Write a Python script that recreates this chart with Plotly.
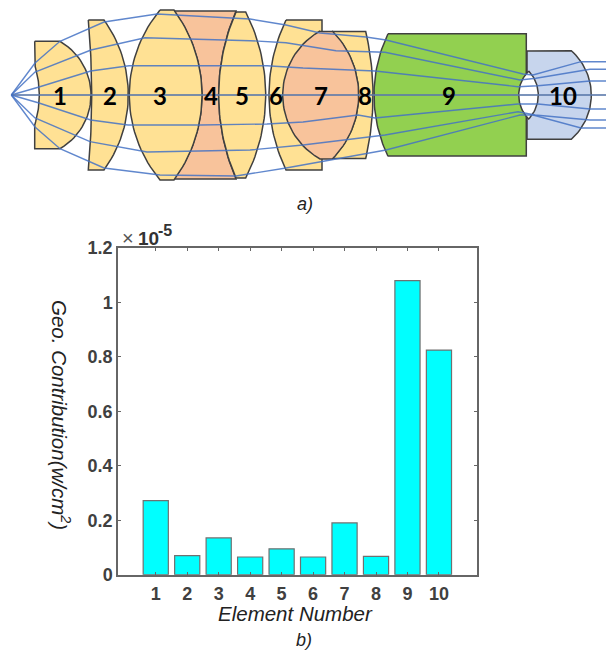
import numpy as np
import plotly.graph_objects as go

W, H = 606, 650

# --- bar chart data ---
elements = [1, 2, 3, 4, 5, 6, 7, 8, 9, 10]
contribution = [0.272, 0.07, 0.135, 0.065, 0.095, 0.065, 0.19, 0.067, 1.08, 0.825]  # x 1e-5
y_ticks = [0, 0.2, 0.4, 0.6, 0.8, 1, 1.2]
y_ticktext = ["0", "0.2", "0.4", "0.6", "0.8", "1", "1.2"]

# --- lens diagram data (diagram units, axis at y = 95) ---
AXIS_Y = 95
DIAGRAM_H = 210
YELLOW, ORANGE, GREEN, BLUE = "#FFE194", "#F8C39B", "#92D050", "#C7D5ED"
EDGE = "#404040"
lens_labels = ["1", "2", "3", "4", "5", "6", "7", "8", "9", "10"]
label_x = [60, 110, 160, 211, 242, 276, 321, 365, 449, 563]

ray_x = [
    [11.3, 35, 60, 104, 157, 236, 250, 286, 320, 366, 386, 523, 533, 581, 606],
    [11.3, 35, 91, 145, 250, 286, 336, 385, 520, 536, 590, 606],
    [11.3, 39, 90.7, 129, 200, 267, 303, 358, 375, 518, 538, 590, 606],
    [11.3, 606],
    [11.3, 39, 90.7, 128, 200, 267, 303, 358, 375, 518, 538, 590, 606],
    [11.3, 35, 90, 147, 250, 303, 385, 518, 535, 590, 606],
    [11.3, 35, 60, 104, 160, 236, 286, 366, 386, 520, 533, 581, 606],
]
ray_y = [
    [95, 63, 41.3, 22, 14, 18, 19, 25, 33, 37, 40, 74, 75, 61.7, 61.7],
    [95, 72, 50, 37.7, 40.7, 42.7, 50.7, 52.3, 80, 78.3, 69.3, 69.3],
    [95, 87, 71, 65.7, 65.7, 65.7, 68, 70.7, 71, 86.7, 85.7, 81, 81],
    [95, 95],
    [95, 103, 120, 125, 125, 124, 122, 115, 118, 104, 104, 109, 109],
    [95, 118, 141.7, 152, 150, 145, 135, 111.7, 115, 120, 120],
    [95, 127, 148.7, 168, 175, 176, 168, 153, 150, 115, 115, 128, 128],
]


def arc(x_edge, x_mid, h, reverse=False, n=40):
    """Circular surface from the top rim to the bottom rim through (x_mid, axis)."""
    s = abs(x_mid - x_edge)
    sign = np.sign(x_mid - x_edge)
    R = (h * h + s * s) / (2 * s)
    y = np.linspace(-h, h, n)
    x = x_mid - sign * (R - np.sqrt(R * R - y * y))
    pts = list(zip(x, y + AXIS_Y))
    return pts[::-1] if reverse else pts


def closed(*parts):
    pts = []
    for p in parts:
        pts.extend(p)
    pts.append(pts[0])
    return [p[0] for p in pts], [p[1] for p in pts]


lenses = [
    # rear-most first
    (YELLOW, closed([(34.7, 41.3), (34.7, 65)], arc(34.7, 39.3, 30), [(34.7, 148.7), (60, 148.7)],
                    arc(60, 91, 53.7, True))),
    (YELLOW, closed(arc(88.3, 91.7, 75), [(104, 170)], arc(104, 128.3, 75, True), [(104, 20)])),
    (ORANGE, closed(arc(174, 202, 84), arc(236, 218.7, 84, True))),
    (YELLOW, closed(arc(160, 129.3, 85), [(174, 180)], arc(174, 202, 85, True))),
    (YELLOW, closed(arc(236, 218.7, 83), [(245.7, 178)], arc(245.7, 265.7, 83, True))),
    (YELLOW, closed(arc(286, 269, 75), [(322, 170), (322, 20)])),
    (YELLOW, closed(arc(332, 358.7, 63.5), [(365.7, 158.5)], arc(365.7, 373, 63.5, True))),
    (ORANGE, closed([(320, 31.5)], arc(320, 282.7, 64), [(320, 159), (332.3, 159)],
                    arc(332.3, 358.7, 64, True), [(332.3, 31.5)])),
    (BLUE, closed([(527, 51)], [(527, 139.3), (571.3, 139.3)], arc(571.3, 591.3, 44.2, True))),
    (GREEN, closed([(388, 33.7)], arc(388, 374, 61.2), [(388, 156), (526.3, 156), (526.3, 33.7)])),
    ("#FFFFFF", closed(arc(528.7, 518.7, 24), arc(528.7, 538.3, 24, True))),
]

fig = go.Figure()

for color, (lx, ly) in lenses:
    fig.add_trace(go.Scatter(x=lx, y=ly, mode="lines", fill="toself", fillcolor=color,
                             line=dict(color=EDGE, width=1.5), hoverinfo="skip",
                             xaxis="x2", yaxis="y2", showlegend=False))

for rx, ry in zip(ray_x, ray_y):
    is_axis = len(rx) == 2
    fig.add_trace(go.Scatter(x=rx, y=ry, mode="lines",
                             line=dict(color="rgba(90,120,170,0.8)" if is_axis else "rgba(68,114,196,0.85)",
                                       width=2 if is_axis else 1.4),
                             hoverinfo="skip", xaxis="x2", yaxis="y2", showlegend=False))

fig.add_trace(go.Bar(x=elements, y=contribution, width=0.8,
                     marker=dict(color="#00FFFF", line=dict(color="#707070", width=1.2)),
                     showlegend=False))


def px(x):
    return x / W


def py(y):
    return 1 - y / H


def note(text, x, y, size, anchor="center", angle=0, **font):
    return dict(text=text, x=px(x), y=py(y), xref="paper", yref="paper", showarrow=False,
                xanchor=anchor, yanchor="middle", textangle=angle,
                font=dict(size=size, family="Liberation Sans", **font))


annotations = []
for t, x in zip(lens_labels, label_x):
    annotations.append(dict(text=t, x=x, y=AXIS_Y, xref="x2", yref="y2", showarrow=False,
                            xanchor="center", yanchor="middle",
                            font=dict(family="Lato", size=24, color="#000000", weight="bold")))

annotations += [
    note("<i>a)</i>", 305, 204, 18, color="#222222"),
    note("<i>b)</i>", 304, 640, 18, color="#222222"),
    note("<i>Element Number</i>", 295, 613, 20.5, color="#222222"),
    note("<i>Geo. Contribution(w/cm<sup>2</sup>)</i>", 61, 415, 20.5, angle=90, color="#222222"),
    note("×", 120, 238, 20, anchor="left", color="#555555"),
    note("10", 136, 238, 19, anchor="left", color="#333333", weight="bold"),
    note("-5", 156, 230, 16, anchor="left", color="#333333", weight="bold"),
]

tick_font = dict(family="Liberation Sans", size=18, color="#404040", weight="bold")
axis_common = dict(showgrid=False, zeroline=False, showline=True, linecolor="#666666", linewidth=1.5,
                   mirror="ticks", ticks="inside", ticklen=3, tickcolor="#666666", tickwidth=1,
                   tickfont=tick_font, automargin=False)

fig.update_layout(
    width=W, height=H, autosize=False,
    margin=dict(l=0, r=0, t=0, b=0),
    paper_bgcolor="white", plot_bgcolor="white",
    showlegend=False,
    xaxis=dict(domain=[px(118), px(476.7)], range=[-0.2, 11.2], tickmode="array", ticklabelstandoff=2,
               tickvals=elements, ticktext=[str(e) for e in elements], **axis_common),
    yaxis=dict(domain=[py(574.7), py(248)], range=[0, 1.2], tickmode="array",
               tickvals=y_ticks, ticktext=y_ticktext, **axis_common),
    xaxis2=dict(domain=[0, 1], range=[0, W], visible=False, anchor="y2", automargin=False),
    yaxis2=dict(domain=[py(DIAGRAM_H), 1], range=[DIAGRAM_H, 0], visible=False, anchor="x2", automargin=False),
    annotations=annotations,
)

fig.write_html("out.html", config={"displayModeBar": False},
               post_script="document.body.style.margin='0';")
